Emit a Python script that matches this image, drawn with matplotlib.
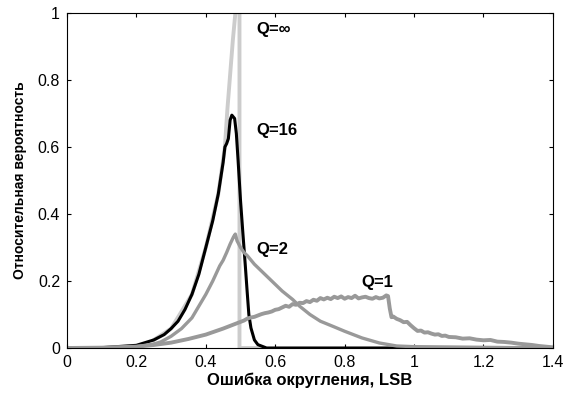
import matplotlib
matplotlib.use('Agg')
import matplotlib.pyplot as plt

plt.rcParams['font.family'] = ['Liberation Sans', 'DejaVu Sans']

# Q=inf (light gray)
qinf_x = [0.25, 0.30, 0.36, 0.40, 0.436, 0.455, 0.462, 0.478, 0.487, 0.497, 0.497, 0.56]
qinf_y = [0.024, 0.058, 0.16, 0.30, 0.46, 0.60, 0.71, 0.92, 1.02, 1.02, 0.0, 0.0]

# Q=16 (black)
q16_x = [0, 0.1, 0.2, 0.25, 0.28, 0.30, 0.32, 0.34, 0.36, 0.38, 0.40, 0.42, 0.436,
         0.45, 0.455, 0.46, 0.465, 0.47, 0.475, 0.483, 0.488, 0.493, 0.50, 0.507,
         0.514, 0.519, 0.524, 0.53, 0.54, 0.55, 0.575, 1.4]
q16_y = [0, 0.001, 0.008, 0.024, 0.04, 0.058, 0.08, 0.115, 0.16, 0.22, 0.30, 0.38, 0.46,
         0.555, 0.60, 0.61, 0.625, 0.68, 0.695, 0.685, 0.64, 0.56, 0.44, 0.34,
         0.243, 0.17, 0.10, 0.06, 0.024, 0.01, 0.0, 0.0]

# Q=2 (gray)
q2_x = [0, 0.1, 0.2, 0.25, 0.27, 0.30, 0.33, 0.36, 0.38, 0.40, 0.42, 0.44, 0.45, 0.46, 0.47,
        0.48, 0.485, 0.49, 0.50, 0.51, 0.52, 0.54, 0.56, 0.58, 0.60, 0.62, 0.65, 0.67,
        0.70, 0.73, 0.77, 0.80, 0.85, 0.90, 0.95, 1.0, 1.1, 1.2, 1.3, 1.4]
q2_y = [0, 0.0005, 0.004, 0.012, 0.018, 0.035, 0.058, 0.09, 0.125, 0.16, 0.20, 0.245, 0.262, 0.285, 0.31,
        0.332, 0.34, 0.32, 0.30, 0.285, 0.275, 0.25, 0.23, 0.21, 0.19, 0.17, 0.145, 0.125,
        0.10, 0.08, 0.063, 0.05, 0.03, 0.015, 0.006, 0.004, 0.003, 0.002, 0.001, 0.0]

# Q=1 (gray, noisy)
q1_x = [0, 0.1, 0.2, 0.25, 0.3, 0.35, 0.4, 0.45, 0.5,
        0.51, 0.52, 0.53, 0.54, 0.55, 0.56, 0.57, 0.58, 0.59, 0.60,
        0.61, 0.62, 0.63, 0.64, 0.65, 0.66, 0.67, 0.68, 0.69, 0.70,
        0.71, 0.72, 0.73, 0.74, 0.75, 0.76, 0.77, 0.78, 0.79, 0.80,
        0.81, 0.82, 0.83, 0.84, 0.85, 0.86, 0.87, 0.88, 0.89, 0.90,
        0.91, 0.92, 0.925, 0.93, 0.935, 0.94, 0.95, 0.96, 0.97, 0.98, 0.99,
        1.00, 1.01, 1.02, 1.03, 1.04, 1.05, 1.06, 1.07, 1.08, 1.09, 1.10,
        1.12, 1.14, 1.16, 1.18, 1.20, 1.22, 1.24, 1.26, 1.28, 1.30,
        1.32, 1.34, 1.36, 1.38, 1.40]
q1_y = [0, 0.001, 0.004, 0.009, 0.016, 0.027, 0.040, 0.058, 0.078,
        0.082, 0.088, 0.091, 0.093, 0.097, 0.101, 0.104, 0.106, 0.109, 0.114,
        0.116, 0.121, 0.126, 0.123, 0.131, 0.129, 0.135, 0.134, 0.140, 0.137,
        0.144, 0.141, 0.149, 0.145, 0.150, 0.146, 0.153, 0.149, 0.154, 0.147,
        0.152, 0.149, 0.156, 0.148, 0.151, 0.153, 0.149, 0.147, 0.152, 0.148,
        0.150, 0.157, 0.155, 0.118, 0.092, 0.094, 0.087, 0.083, 0.077, 0.078, 0.068,
        0.059, 0.051, 0.052, 0.046, 0.047, 0.043, 0.040, 0.041, 0.036, 0.037, 0.033,
        0.032, 0.028, 0.029, 0.025, 0.023, 0.024, 0.019, 0.018, 0.016, 0.013,
        0.011, 0.009, 0.006, 0.004, 0.002]

xticks = [0, 0.2, 0.4, 0.6, 0.8, 1.0, 1.2, 1.4]
xtick_labels = ['0', '0.2', '0.4', '0.6', '0.8', '1', '1.2', '1.4']
yticks = [0, 0.2, 0.4, 0.6, 0.8, 1.0]
ytick_labels = ['0', '0.2', '0.4', '0.6', '0.8', '1']

fig = plt.figure(figsize=(5.7, 3.93), dpi=100)
ax = fig.add_axes([0.1175, 0.1145, 0.8525, 0.8525])

ax.plot(qinf_x, qinf_y, color='#cccccc', lw=2.8)
ax.plot(q16_x, q16_y, color='black', lw=2.2)
ax.plot(q2_x, q2_y, color='#999999', lw=2.4)
ax.plot(q1_x, q1_y, color='#999999', lw=2.8)

ax.text(0.545, 0.95, 'Q=\u221e', fontsize=12, fontweight='bold', va='center')
ax.text(0.545, 0.65, 'Q=16', fontsize=12, fontweight='bold', va='center')
ax.text(0.545, 0.293, 'Q=2', fontsize=12, fontweight='bold', va='center')
ax.text(0.847, 0.196, 'Q=1', fontsize=12, fontweight='bold', va='center')

ax.set_xlim(0, 1.4)
ax.set_ylim(0, 1)
ax.set_xticks(xticks)
ax.set_xticklabels(xtick_labels)
ax.set_yticks(yticks)
ax.set_yticklabels(ytick_labels)
ax.tick_params(direction='in', top=True, right=True, length=3, labelsize=11.5, pad=5)

ax.set_xlabel('Ошибка округления, LSB', fontsize=12, fontweight='bold', labelpad=2)
ax.set_ylabel('Относительная вероятность', fontsize=10, fontweight='bold', labelpad=8)

plt.savefig('out.png', dpi=100)
